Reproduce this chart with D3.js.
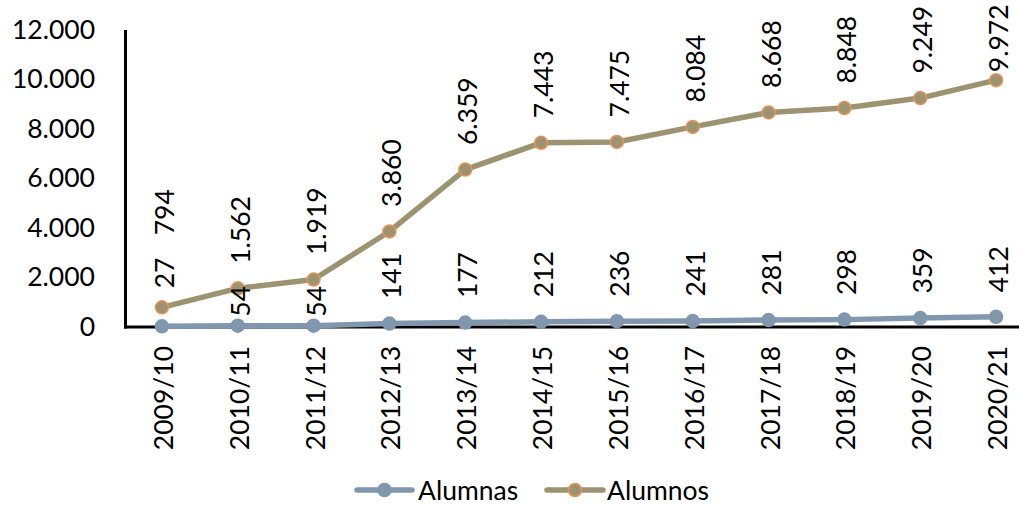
<!DOCTYPE html>
<html>
<head>
<meta charset="utf-8">
<script src="https://cdn.jsdelivr.net/npm/d3@7"></script>
<style>
  html, body { margin: 0; padding: 0; background: #fff; }
  svg { display: block; }
  text { font-family: Lato, "Open Sans", sans-serif; fill: #000; }
</style>
</head>
<body>
<svg id="chart" width="1019" height="505"></svg>
<script>
// ---- data ----
const categories = ["2009/10","2010/11","2011/12","2012/13","2013/14","2014/15","2015/16","2016/17","2017/18","2018/19","2019/20","2020/21"];
const alumnas = [27, 54, 54, 141, 177, 212, 236, 241, 281, 298, 359, 412];
const alumnos = [794, 1562, 1919, 3860, 6359, 7443, 7475, 8084, 8668, 8848, 9249, 9972];
const yTicks = [0, 2000, 4000, 6000, 8000, 10000, 12000];
const seriesNames = ["Alumnas", "Alumnos"];

// ---- layout ----
const W = 1019, H = 505;
const plotLeft = 124, plotRight = 1034, plotTop = 30, plotBottom = 327;
const fontSize = 26.5;
const colors = {
  Alumnas: { line: "#8097AE", fill: "#8097AE", stroke: "#8097AE" },
  Alumnos: { line: "#9C9471", fill: "#9C9471", stroke: "#E8935A" }
};
// label gap above point (px) and Excel-like collision nudges
const labelGap = 24.5;
const labelGapOverride = { "Alumnos-0": 72, "Alumnas-0": 38, "Alumnas-1": 9, "Alumnas-2": 9, "Alumnos-11": 8 };

const fmt = v => d3.format(",")(v).replace(/,/g, ".");

const svg = d3.select("#chart");

const x = d3.scaleBand().domain(categories).range([plotLeft, plotRight]).padding(0);
const cx = c => x(c) + x.bandwidth() / 2;
const y = d3.scaleLinear().domain([0, 12000]).range([plotBottom, plotTop]);

// y axis labels
const yAxis = d3.axisLeft(y).tickValues(yTicks).tickFormat(fmt).tickSize(0).tickPadding(29);
const gy = svg.append("g").attr("transform", `translate(${plotLeft},0)`).call(yAxis);
gy.select(".domain").remove();
gy.selectAll("text").attr("font-size", fontSize).attr("font-family", "Lato, sans-serif").attr("fill", "#000");

// axis lines
svg.append("line").attr("x1", plotLeft + 1.5).attr("x2", plotLeft + 1.5).attr("y1", plotTop).attr("y2", plotBottom + 1.5)
  .attr("stroke", "#000").attr("stroke-width", 3);
svg.append("line").attr("x1", plotLeft).attr("x2", W).attr("y1", plotBottom).attr("y2", plotBottom)
  .attr("stroke", "#000").attr("stroke-width", 3);

// x axis labels (rotated)
const xAxis = d3.axisBottom(x).tickSize(0).tickPadding(0);
const gx = svg.append("g").attr("transform", `translate(0,${plotBottom})`).call(xAxis);
gx.select(".domain").remove();
gx.selectAll("text")
  .attr("font-size", fontSize).attr("font-family", "Lato, sans-serif").attr("fill", "#000")
  .attr("text-anchor", "end")
  .attr("dy", null)
  .attr("transform", "translate(1,19) rotate(-90)")
  .attr("x", 0).attr("y", 0)
  .attr("dominant-baseline", "central");

// series
const series = [
  { name: "Alumnas", values: alumnas },
  { name: "Alumnos", values: alumnos }
];
const line = d3.line().x((d, i) => cx(categories[i])).y(d => y(d));

series.forEach(s => {
  const c = colors[s.name];
  svg.append("path").datum(s.values).attr("d", line)
    .attr("fill", "none").attr("stroke", c.line).attr("stroke-width", 5.5).attr("stroke-linejoin", "round");
  svg.selectAll(null).data(s.values).enter().append("circle")
    .attr("cx", (d, i) => cx(categories[i])).attr("cy", d => y(d)).attr("r", 6.5)
    .attr("fill", c.fill).attr("stroke", c.stroke).attr("stroke-width", 1.5);
});

// data labels
series.forEach(s => {
  svg.selectAll(null).data(s.values).enter().append("text")
    .attr("font-size", fontSize)
    .attr("text-anchor", "start")
    .attr("dominant-baseline", "central")
    .attr("transform", (d, i) => {
      const key = s.name + "-" + i;
      const gap = labelGapOverride[key] !== undefined ? labelGapOverride[key] : labelGap;
      const px = cx(categories[i]) + 2;
      const py = y(d) - gap;
      return `translate(${px},${py}) rotate(-90)`;
    })
    .text(d => fmt(d));
});

// legend
const legendItems = [
  { name: "Alumnas", x0: 357, x1: 412, tx: 418 },
  { name: "Alumnos", x0: 547, x1: 603, tx: 607 }
];
const ly = 490;
legendItems.forEach(it => {
  const c = colors[it.name];
  svg.append("line").attr("x1", it.x0).attr("x2", it.x1).attr("y1", ly).attr("y2", ly)
    .attr("stroke", c.line).attr("stroke-width", 5.5).attr("stroke-linecap", "round");
  svg.append("circle").attr("cx", (it.x0 + it.x1) / 2).attr("cy", ly).attr("r", 6.5)
    .attr("fill", c.fill).attr("stroke", c.stroke).attr("stroke-width", 1.5);
  svg.append("text").attr("x", it.tx).attr("y", ly).attr("font-size", fontSize)
    .attr("dominant-baseline", "central").text(it.name);
});
</script>
</body>
</html>
